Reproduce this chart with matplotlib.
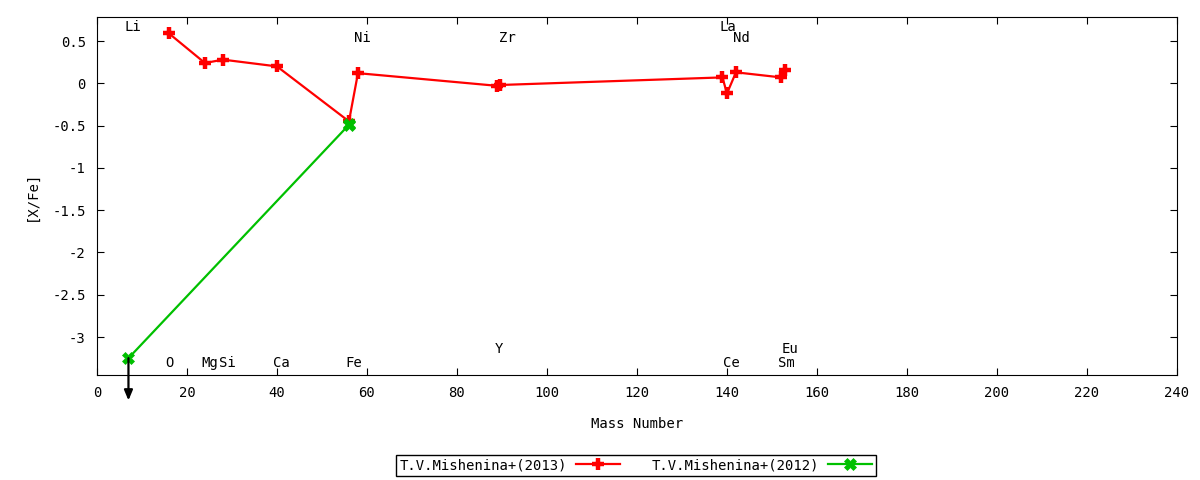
import numpy as np
import matplotlib.pyplot as plt

plt.rcParams['font.family'] = ['DejaVu Sans Mono']
plt.rcParams['font.size'] = 10

# T.V.Mishenina+(2013)
mass_2013 = [16, 24, 28, 40, 56, 58, 89, 89.5, 139, 140, 142, 152, 153]
xfe_2013 = [0.59, 0.24, 0.28, 0.20, -0.45, 0.12, -0.03, -0.02, 0.07, -0.12, 0.13, 0.07, 0.16]

# T.V.Mishenina+(2012)
mass_2012 = [7, 56, 56]
xfe_2012 = [-3.25, -0.49, -0.48]
uplim_2012 = [True, False, False]

# element labels
elem_names = ['Li', 'O', 'Mg', 'Si', 'Ca', 'Fe', 'Ni', 'Y', 'Zr', 'La', 'Ce', 'Nd', 'Sm', 'Eu']
elem_x = [8, 16, 25, 29, 41, 57, 59, 89.4, 91.2, 140.3, 141, 143.2, 153.2, 154]
elem_y = [0.666, -3.306, -3.306, -3.306, -3.306, -3.306, 0.536, -3.14, 0.536, 0.666,
          -3.306, 0.536, -3.306, -3.14]

red = '#ff0000'
green = '#00c000'

fig = plt.figure(figsize=(12, 4.8), dpi=100)
ax = fig.add_axes([0.0808, 0.21875, 0.9, 0.7458])

l1, = ax.plot(mass_2013, xfe_2013, color=red, lw=1.6, marker='+', ms=8, mew=3.2,
              label='T.V.Mishenina+(2013)')
l2, = ax.plot(mass_2012, xfe_2012, color=green, lw=1.6, marker='X', ms=8, mew=0.5,
              label='T.V.Mishenina+(2012)')

# upper limit arrows
for m, v, up in zip(mass_2012, xfe_2012, uplim_2012):
    if up:
        ax.annotate('', xy=(m, v - 0.5), xytext=(m, v),
                    arrowprops=dict(arrowstyle='-|>,head_width=0.25,head_length=0.6',
                                    color='black', lw=1.6, shrinkA=0, shrinkB=0),
                    annotation_clip=False)

for name, x, y in zip(elem_names, elem_x, elem_y):
    ax.text(x, y, name, ha='center', va='center')

ax.set_xlim(0, 240)
ax.set_ylim(-3.449, 0.784)
ax.set_xticks(np.arange(0, 241, 20))
ax.set_yticks([0.5, 0, -0.5, -1, -1.5, -2, -2.5, -3])
ax.set_yticklabels(['0.5', '0', '-0.5', '-1', '-1.5', '-2', '-2.5', '-3'])
ax.tick_params(direction='in', length=5, top=True, right=True, pad=8)
ax.set_xlabel('Mass Number', labelpad=12)
ax.set_ylabel('[X/Fe]', labelpad=10)

leg = fig.legend(handles=[l1, l2], loc='center', bbox_to_anchor=(0.53, 0.031), ncol=2,
                 markerfirst=False, fancybox=False, edgecolor='black', framealpha=1,
                 handlelength=3.2, columnspacing=2.3, borderpad=0.25, handletextpad=0.6)
leg.get_frame().set_linewidth(1)

fig.savefig('out.png', dpi=100)
